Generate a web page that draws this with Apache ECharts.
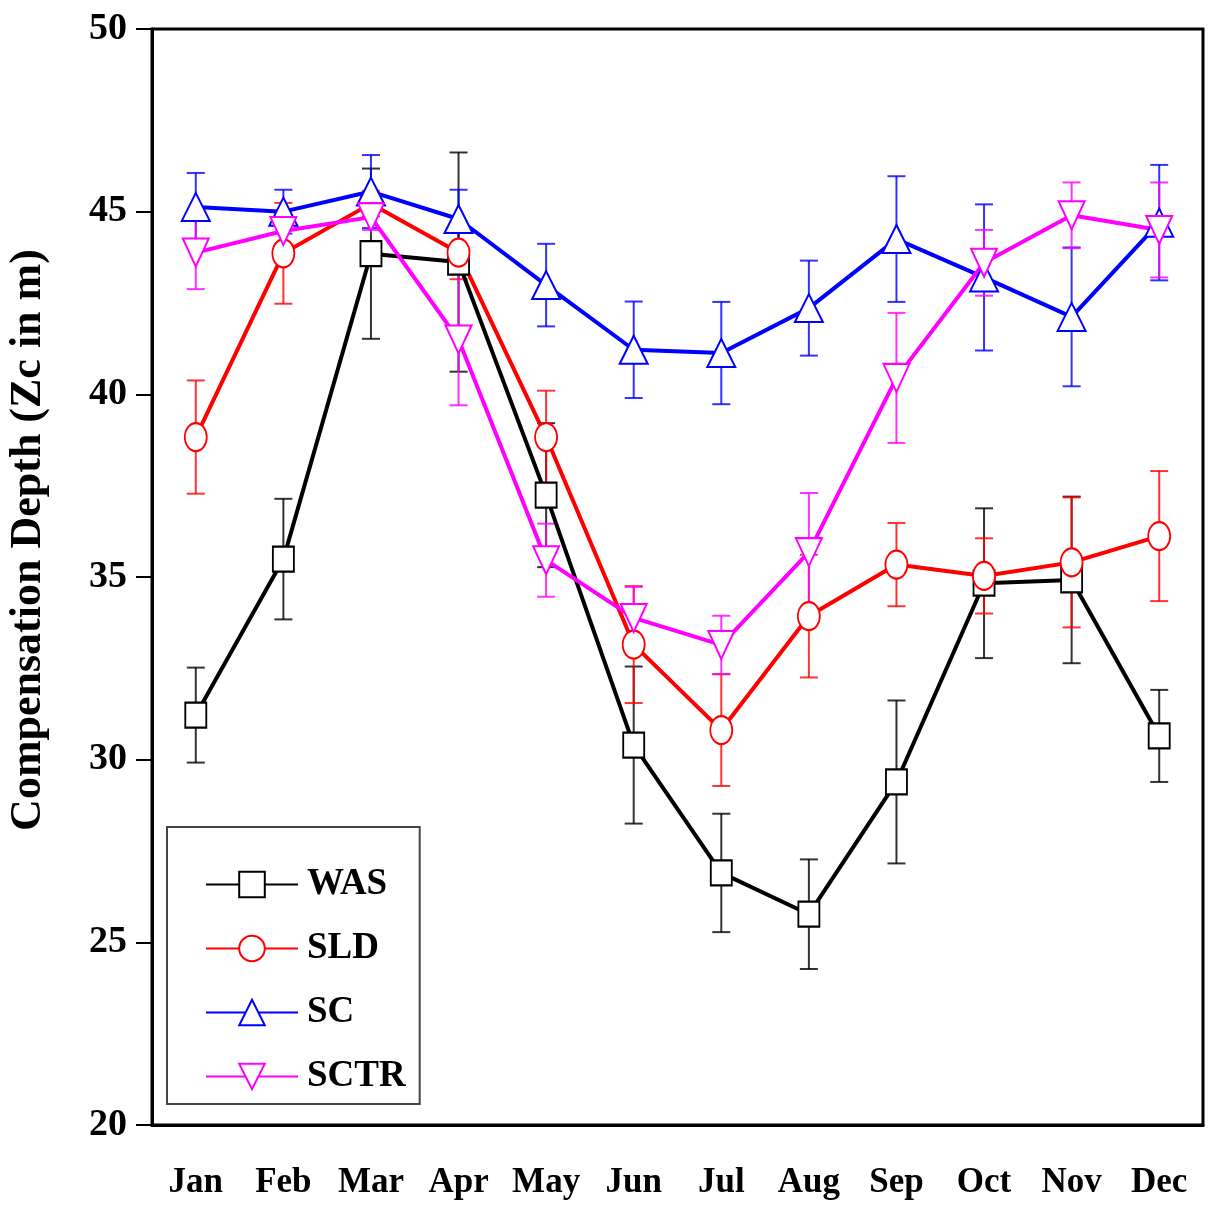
<!DOCTYPE html>
<html>
<head>
<meta charset="utf-8">
<script src="https://cdn.jsdelivr.net/npm/echarts@6/dist/echarts.min.js"></script>
<style>
  html, body { margin: 0; padding: 0; background: #fff; }
  #chart { width: 1209px; height: 1209px; }
</style>
</head>
<body>
<div id="chart"></div>
<script>
const months = ["Jan", "Feb", "Mar", "Apr", "May", "Jun", "Jul", "Aug", "Sep", "Oct", "Nov", "Dec"];

const was = [31.22, 35.49, 43.85, 43.62, 37.24, 30.40, 26.90, 25.77, 29.39, 34.83, 34.92, 30.65];
const wasErr = [1.30, 1.65, 2.33, 3.00, 1.97, 2.15, 1.62, 1.50, 2.23, 2.05, 2.28, 1.26];

const sld = [38.83, 43.86, 45.22, 43.88, 38.83, 33.15, 30.81, 33.93, 35.34, 35.03, 35.40, 36.12];
const sldErr = [1.55, 1.38, 0.35, 0.73, 1.27, 1.60, 1.53, 1.68, 1.14, 1.03, 1.78, 1.78];

const sc = [45.13, 45.00, 45.55, 44.80, 42.99, 41.22, 41.13, 42.36, 44.25, 43.20, 42.12, 44.70];
const scErr = [0.93, 0.60, 1.00, 0.80, 1.13, 1.32, 1.40, 1.30, 1.72, 2.00, 1.90, 1.58];

const sctr = [43.88, 44.47, 44.85, 41.50, 35.46, 33.88, 33.14, 35.68, 40.45, 43.60, 44.90, 44.50];
const sctrErr = [1.00, 0.45, 0.35, 1.80, 1.00, 0.85, 0.80, 1.62, 1.78, 0.90, 0.90, 1.30];

const font = '"Liberation Serif", "Times New Roman", serif';

// [name, values, errors, color, symbol, symbolSize, rotate]
const groups = [
  ["WAS", was, wasErr, "#000000", "emptyRect", [21, 25], 0],
  ["SLD", sld, sldErr, "#ff0000", "emptyCircle", [22, 28], 0],
  ["SC", sc, scErr, "#0000ff", "emptyTriangle", [28, 28], 0],
  ["SCTR", sctr, sctrErr, "#ff00ff", "emptyTriangle", [26, 28], 180]
];

function errBar(color) {
  return function (params, api) {
    const i = api.value(0);
    const lo = api.coord([i, api.value(1)]);
    const hi = api.coord([i, api.value(2)]);
    const w = 9;
    const style = { stroke: color, lineWidth: 2, opacity: 0.8 };
    return {
      type: "group",
      children: [
        { type: "line", shape: { x1: lo[0], y1: lo[1], x2: hi[0], y2: hi[1] }, style: style },
        { type: "line", shape: { x1: lo[0] - w, y1: lo[1], x2: lo[0] + w, y2: lo[1] }, style: style },
        { type: "line", shape: { x1: hi[0] - w, y1: hi[1], x2: hi[0] + w, y2: hi[1] }, style: style }
      ]
    };
  };
}

const series = [];
groups.forEach(function (g) {
  series.push({
    name: g[0] + " err",
    type: "custom",
    z: 1,
    renderItem: errBar(g[3]),
    data: g[1].map(function (v, i) { return [i, v - g[2][i], v + g[2][i]]; })
  });
});
groups.forEach(function (g) {
  series.push({
    name: g[0],
    type: "line",
    z: 3,
    data: g[1],
    color: g[3],
    symbol: g[4],
    symbolSize: g[5],
    symbolRotate: g[6],
    showAllSymbol: true,
    lineStyle: { color: g[3], width: 4 },
    itemStyle: { color: g[3], borderWidth: 2 }
  });
});

const chart = echarts.init(document.getElementById("chart"));
chart.setOption({
  animation: false,
  backgroundColor: "#fff",
  grid: {
    left: 152, right: 6, top: 29, bottom: 84,
    outerBoundsMode: "none",
    show: true, borderColor: "#000", borderWidth: 3
  },
  legend: {
    data: groups.map(function (g) { return g[0]; }),
    orient: "vertical",
    left: 167,
    top: 827,
    padding: [39, 14, 9, 38],
    itemWidth: 92,
    itemHeight: 32,
    itemGap: 27,
    borderColor: "#444",
    borderWidth: 2,
    textStyle: { fontFamily: font, fontWeight: "bold", fontSize: 37, color: "#000", padding: [0, 0, 0, 4] }
  },
  xAxis: {
    type: "category",
    data: months,
    boundaryGap: true,
    axisLine: { lineStyle: { color: "#000", width: 3 } },
    axisTick: { alignWithLabel: true, interval: 0, length: 20, lineStyle: { color: "#000", width: 2 } },
    axisLabel: { interval: 0, margin: 40, fontFamily: font, fontWeight: "bold", fontSize: 35, color: "#000" },
    splitLine: { show: false }
  },
  yAxis: {
    type: "value",
    min: 20,
    max: 50,
    interval: 5,
    name: "Compensation Depth (Zc in m)",
    nameLocation: "middle",
    nameGap: 101,
    nameTextStyle: { fontFamily: font, fontWeight: "bold", fontSize: 44, color: "#000", padding: [0, 0, 0, 74] },
    axisLine: { show: true, lineStyle: { color: "#000", width: 3 } },
    axisTick: { show: true, length: 16, lineStyle: { color: "#000", width: 2 } },
    axisLabel: { margin: 25, fontFamily: font, fontWeight: "bold", fontSize: 38, color: "#000" },
    splitLine: { show: false }
  },
  series: series
});
</script>
</body>
</html>
